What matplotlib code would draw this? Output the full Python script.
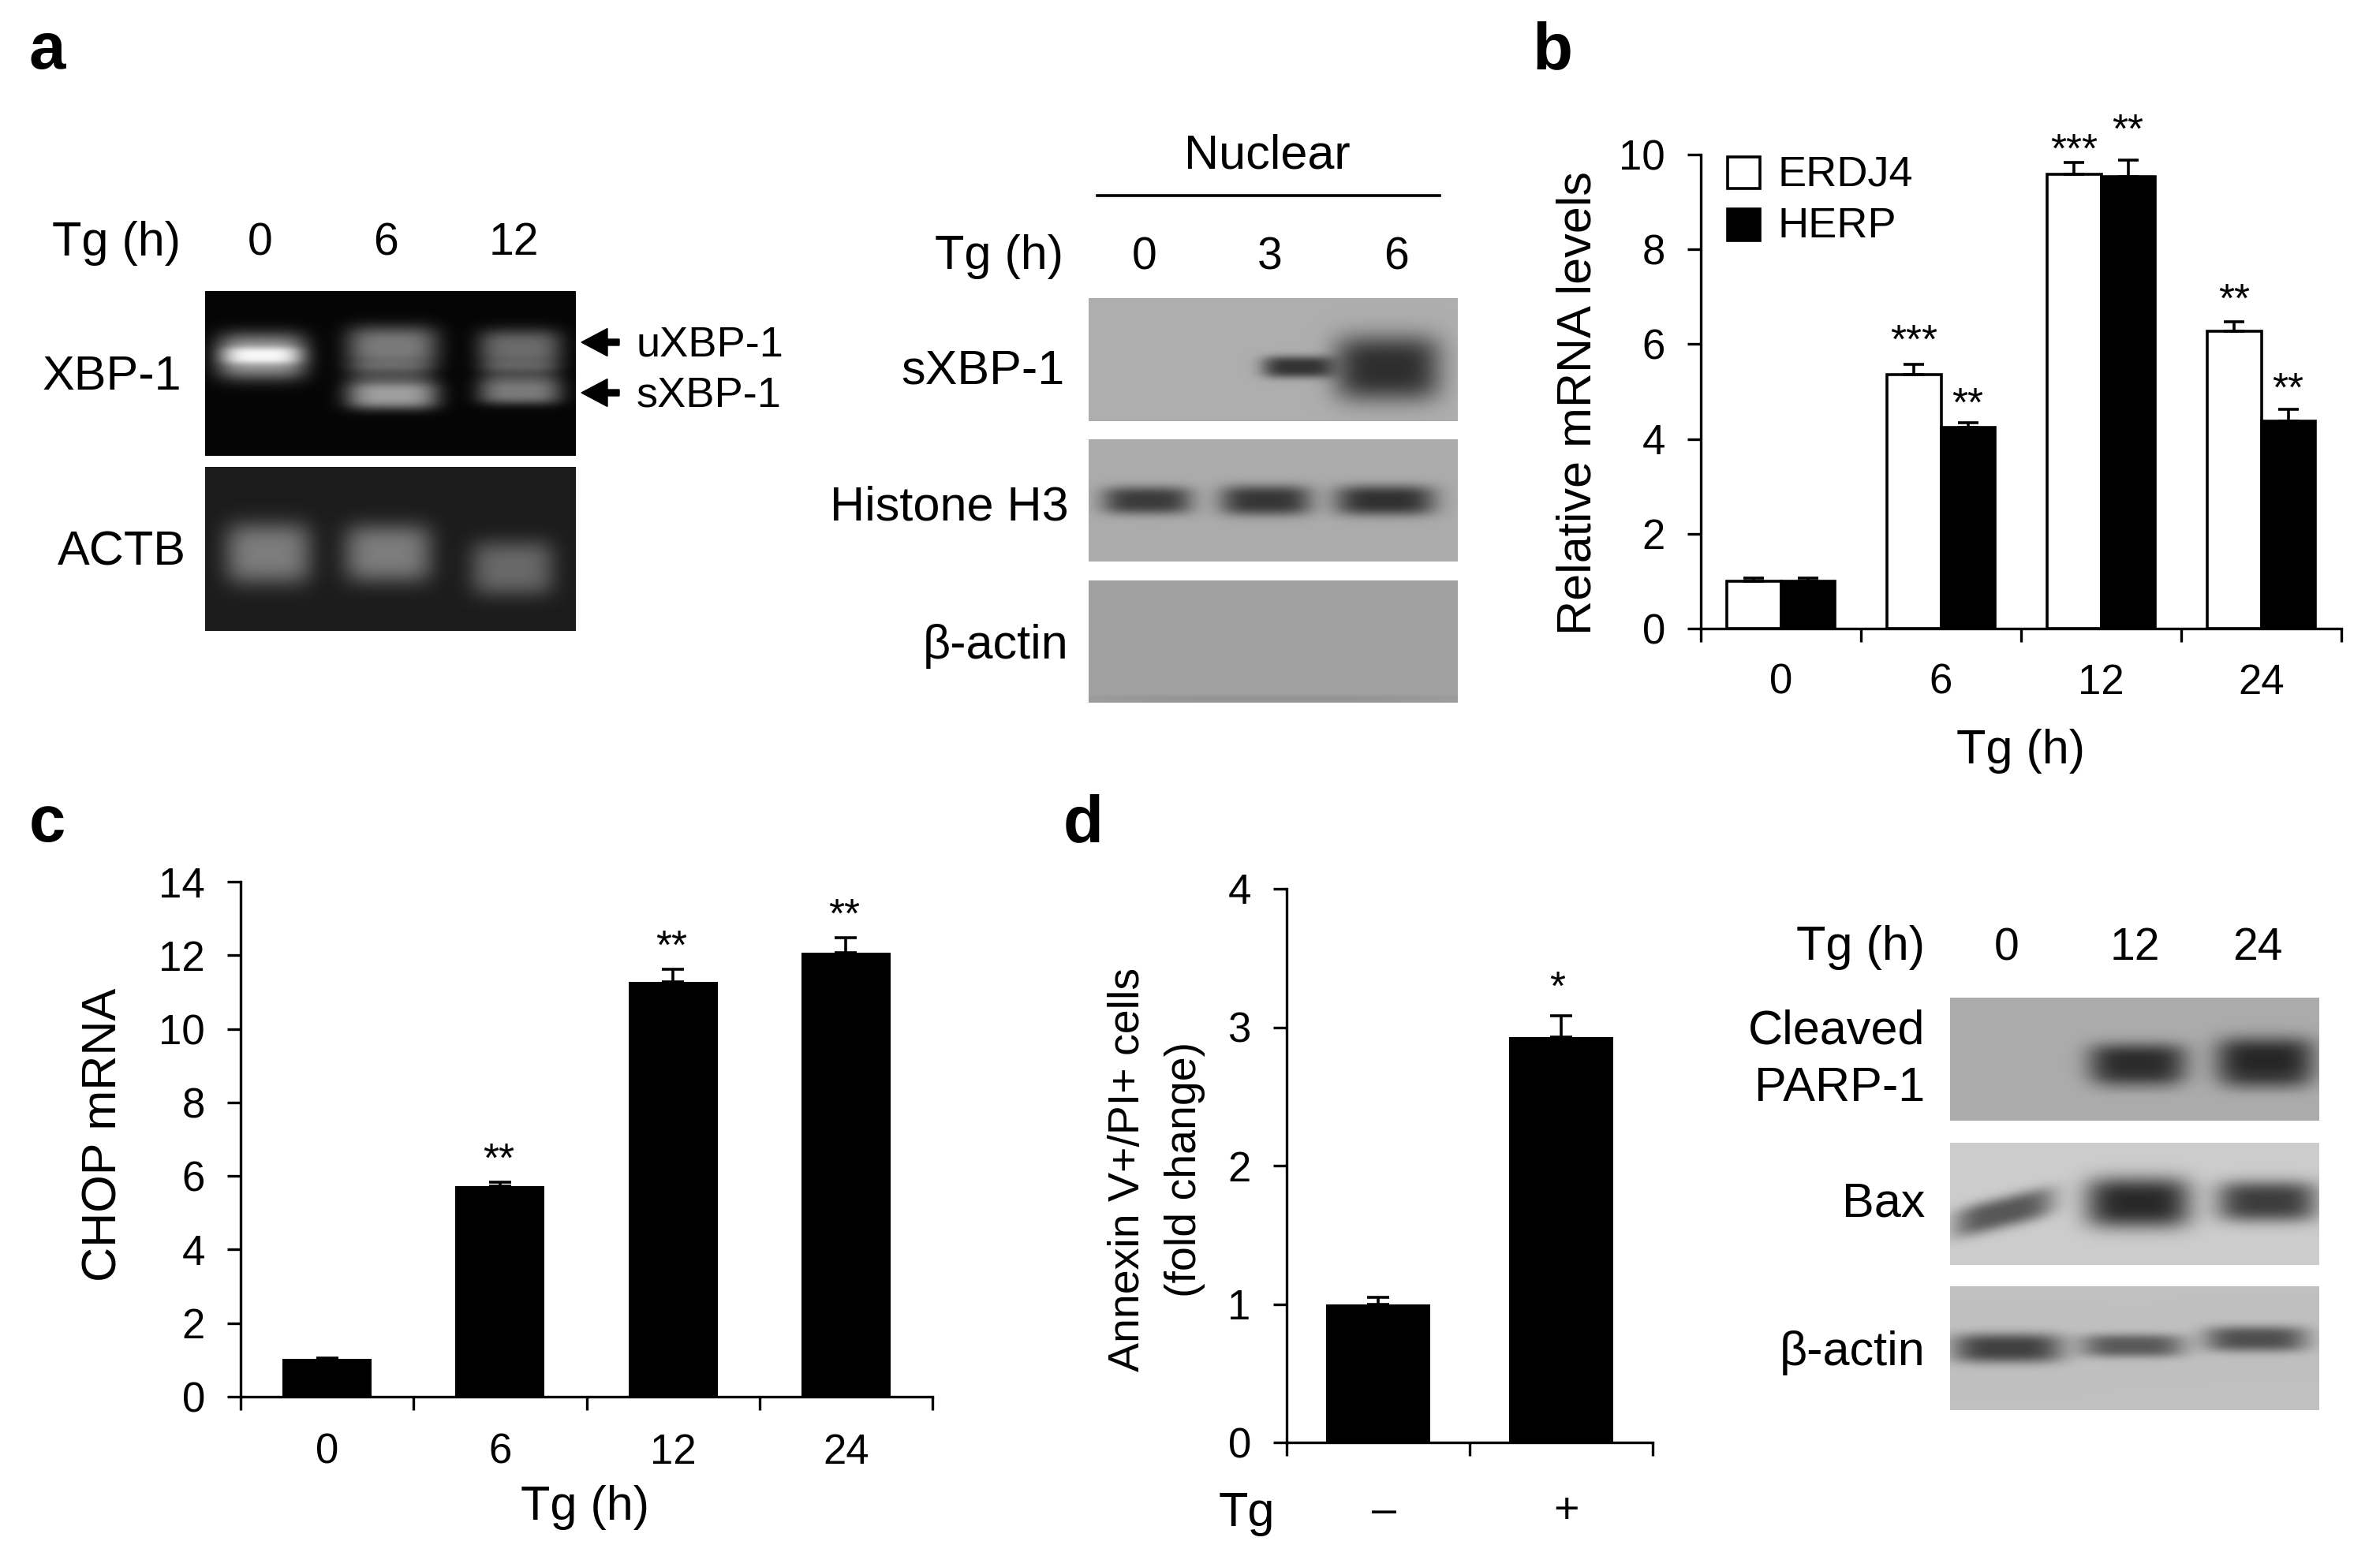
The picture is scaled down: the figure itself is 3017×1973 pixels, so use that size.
import numpy as np
import matplotlib
matplotlib.use('Agg')
import matplotlib.pyplot as plt

plt.rcParams['font.family'] = ['Liberation Sans', 'DejaVu Sans']

W = 3017
H = 1973
FS = 44
TICK_FS = 38

# panel b
b_labels = ['0', '6', '12', '24']
erdj4 = [1.0, 5.35, 9.58, 6.28]
erdj4_err = [0.06, 0.22, 0.25, 0.19]
herp = [1.0, 4.24, 9.54, 4.38]
herp_err = [0.06, 0.10, 0.34, 0.25]
erdj4_stars = ['', '***', '***', '**']
herp_stars = ['', '**', '**', '**']

# panel c
c_labels = ['0', '6', '12', '24']
chop = [1.03, 5.73, 11.28, 12.08]
chop_err = [0.03, 0.1, 0.35, 0.40]
chop_stars = ['', '**', '**', '**']

# panel d
d_labels = ['\u2013', '+']
annexin = [1.0, 2.93]
annexin_err = [0.05, 0.15]
annexin_stars = ['', '*']


def px_axes(fig, x0, y0, x1, y1):
    # pixel box from the top left corner of the picture
    return fig.add_axes([x0 / W, 1 - y1 / H, (x1 - x0) / W, (y1 - y0) / H])


def txt(x, y, s, size=FS, ha='center', va='center', **kw):
    # upright centred text sits a little high, push it down
    if va == 'center' and 'rotation' not in kw:
        y = y + 4
    fig.text(x / W, 1 - y / H, s, fontsize=size, ha=ha, va=va, **kw)


def blot(x0, y0, x1, y1, bg, bands):
    # bands: x centre, y centre, half width, half height, strength, optional tilt (0-1 of the box)
    ax = px_axes(fig, x0, y0, x1, y1)
    h = int(y1 - y0)
    w = int(x1 - x0)
    yy, xx = np.mgrid[0:1:h * 1j, 0:1:w * 1j]
    img = np.full((h, w), float(bg))
    for band in bands:
        cx, cy, hw, hh, val, tilt = (*band, 0)[:6]
        d = (np.abs(xx - cx) / hw) ** 4 + (np.abs(yy - cy - tilt * (xx - cx)) / hh) ** 3
        img = img + val * np.exp(-d)
    ax.imshow(np.clip(img, 0, 1), cmap='gray', vmin=0, vmax=1, aspect='auto')
    ax.axis('off')


def style(ax, ymax, step, ncat):
    ax.set_xlim(0, ncat)
    ax.set_ylim(0, ymax)
    ax.spines['top'].set_visible(False)
    ax.spines['right'].set_visible(False)
    ax.spines['left'].set_linewidth(2.4)
    ax.spines['bottom'].set_linewidth(2.4)
    ax.set_yticks(np.arange(0, ymax + 0.1, step))
    ax.set_xticks(np.arange(0, ncat + 1))
    ax.set_xticklabels([])
    ax.tick_params(axis='both', width=2.4, length=12.5, labelsize=TICK_FS, pad=20)
    ax.patch.set_alpha(0)


def stars(ax, x, y, s, off):
    if s:
        ax.annotate(s, (x, y), xytext=(0, off), textcoords='offset points',
                    fontsize=37, ha='center', va='center')


fig = plt.figure(figsize=(W / 100, H / 100), dpi=100, facecolor='white')

# panel letters
txt(60, 87, 'a', size=60, fontweight='bold', va='baseline')
txt(1968, 87, 'b', size=60, fontweight='bold', va='baseline')
txt(60, 1067, 'c', size=60, fontweight='bold', va='baseline')
txt(1373, 1067, 'd', size=60, fontweight='bold', va='baseline')

# panel a, gels
txt(147, 304, 'Tg (h)')
for x, s in zip([330, 489, 651], ['0', '6', '12']):
    txt(x, 304, s, size=TICK_FS + 3)
txt(230, 474, 'XBP-1', ha='right')
txt(236, 697, 'ACTB', ha='right')
blot(260, 369, 730, 578, 0.02, [
    (0.152, 0.395, 0.122, 0.14, 0.62), (0.152, 0.39, 0.11, 0.05, 0.33),
    (0.505, 0.34, 0.125, 0.13, 0.46), (0.505, 0.63, 0.125, 0.09, 0.60), (0.50, 0.49, 0.12, 0.06, 0.20),
    (0.85, 0.35, 0.114, 0.12, 0.40), (0.85, 0.61, 0.114, 0.08, 0.46), (0.85, 0.49, 0.11, 0.06, 0.20),
])
blot(260, 592, 730, 800, 0.11, [
    (0.17, 0.53, 0.118, 0.19, 0.38), (0.494, 0.53, 0.12, 0.18, 0.38), (0.83, 0.62, 0.114, 0.17, 0.30),
])
for y, s in zip([434, 498], ['uXBP-1', 'sXBP-1']):
    fig.add_artist(matplotlib.patches.FancyArrow(
        785 / W, 1 - y / H, -48 / W, 0, width=8 / H, head_width=35 / H, head_length=33 / W,
        length_includes_head=True, color='black', transform=fig.transFigure))
    txt(807, y, s, size=39, ha='left')

# panel a, nuclear blots
txt(1606, 194, 'Nuclear')
fig.add_artist(plt.Line2D([1391 / W, 1825 / W], [1 - 248 / H] * 2, color='black', lw=2.6))
txt(1348, 322, 'Tg (h)', ha='right')
for x, s in zip([1451, 1610, 1770], ['0', '3', '6']):
    txt(x, 322, s, size=TICK_FS + 3)
txt(1350, 467, 'sXBP-1', ha='right')
txt(1355, 640, 'Histone H3', ha='right')
txt(1355, 815, '\u03b2-actin', ha='right')
blot(1380, 378, 1848, 534, 0.68, [
    (0.565, 0.56, 0.095, 0.09, -0.48), (0.81, 0.57, 0.145, 0.27, -0.50),
])
blot(1380, 557, 1848, 712, 0.67, [
    (0.158, 0.50, 0.122, 0.115, -0.44), (0.48, 0.50, 0.124, 0.125, -0.46), (0.804, 0.50, 0.136, 0.125, -0.48),
])
blot(1380, 736, 1848, 891, 0.63, [(0.5, 0.97, 0.5, 0.03, -0.05)])

# panel b
ax = px_axes(fig, 2156, 196, 2968, 797)
style(ax, 10, 2, 4)
x = np.arange(4) + 0.5
bw = 0.335
ekw = dict(ecolor='black', elinewidth=2.6, capsize=9.5, capthick=2.6)
ax.bar(x - bw / 2, erdj4, bw, color='white', edgecolor='black', linewidth=2.6,
       yerr=[[0] * 4, erdj4_err], error_kw=ekw)
ax.bar(x + bw / 2, herp, bw, color='black', edgecolor='black', linewidth=2.6,
       yerr=[[0] * 4, herp_err], error_kw=ekw)
erdj4_off = [0, 20, 10, 19]
herp_off = [0, 16, 26, 17]
for i in range(4):
    stars(ax, x[i] - bw / 2, erdj4[i] + erdj4_err[i], erdj4_stars[i], erdj4_off[i])
    stars(ax, x[i] + bw / 2, herp[i] + herp_err[i], herp_stars[i], herp_off[i])
    txt(2156 + 203 * (i + 0.5), 862, b_labels[i], size=TICK_FS)
txt(2001, 511, 'Relative mRNA levels', rotation=90)
txt(2561, 949, 'Tg (h)')
for y, c, s in zip([199, 265], ['white', 'black'], ['ERDJ4', 'HERP']):
    fig.add_artist(plt.Rectangle((2190 / W, 1 - (y + 40) / H), 41 / W, 40 / H, facecolor=c,
                                 edgecolor='black', lw=2.6, transform=fig.transFigure))
    txt(2253, y + 18, s, size=39, ha='left')

# panel c
ax = px_axes(fig, 305, 1118, 1182, 1771)
style(ax, 14, 2, 4)
x = np.arange(4) + 0.5
ekw = dict(ecolor='black', elinewidth=2.6, capsize=10, capthick=2.6)
ax.bar(x, chop, 0.515, color='black', yerr=[[0] * 4, chop_err], error_kw=ekw)
for i in range(4):
    stars(ax, x[i] - 0.01, chop[i] + chop_err[i], chop_stars[i], 19)
    txt(305 + 219.25 * (i + 0.5), 1838, c_labels[i], size=TICK_FS)
txt(132, 1439, 'CHOP mRNA', rotation=90)
txt(742, 1907, 'Tg (h)')

# panel d
ax = px_axes(fig, 1631, 1127, 2095, 1829)
style(ax, 4, 1, 2)
x = np.arange(2) + 0.5
ax.bar(x, annexin, 0.573, color='black', yerr=[[0] * 2, annexin_err], error_kw=ekw)
for i in range(2):
    stars(ax, x[i] - 0.02, annexin[i] + annexin_err[i], annexin_stars[i], 25)
for px, s in zip([1754, 1985], d_labels):
    txt(px, 1913, s, size=TICK_FS + 2)
txt(1430, 1483, 'Annexin V+/PI+ cells', size=40, rotation=90)
txt(1502, 1483, '(fold change)', size=40, rotation=90)
txt(1580, 1916, 'Tg')

# panel d, blots
txt(2440, 1198, 'Tg (h)', ha='right')
for px, s in zip([2544, 2706, 2862], ['0', '12', '24']):
    txt(px, 1198, s, size=TICK_FS + 3)
txt(2440, 1304, 'Cleaved', ha='right')
txt(2440, 1376, 'PARP-1', ha='right')
txt(2440, 1523, 'Bax', ha='right')
txt(2440, 1712, '\u03b2-actin', ha='right')
blot(2472, 1265, 2940, 1421, 0.67, [
    (0.508, 0.53, 0.134, 0.16, -0.50), (0.508, 0.70, 0.12, 0.08, -0.10),
    (0.855, 0.51, 0.135, 0.19, -0.52), (0.855, 0.70, 0.12, 0.08, -0.10),
])
blot(2472, 1449, 2940, 1604, 0.80, [
    (0.145, 0.57, 0.135, 0.13, -0.46, -0.74), (0.51, 0.49, 0.143, 0.21, -0.64), (0.86, 0.48, 0.137, 0.17, -0.56),
])
blot(2472, 1631, 2940, 1788, 0.75, [
    (0.155, 0.50, 0.15, 0.12, -0.50), (0.495, 0.48, 0.14, 0.095, -0.40), (0.83, 0.425, 0.14, 0.105, -0.44),
])

fig.savefig('out.png', dpi=100, facecolor='white')
